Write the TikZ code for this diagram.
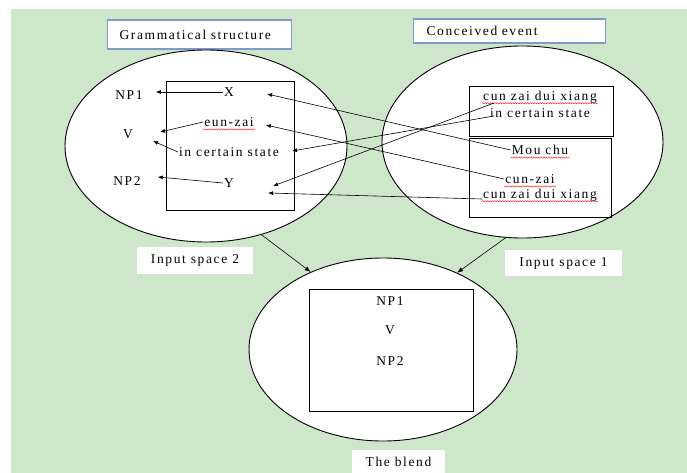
\documentclass[tikz,border=0pt]{standalone}
\usepackage{fontspec}
\setmainfont{Liberation Serif}[LetterSpace=12]
\usetikzlibrary{arrows.meta,shapes.geometric,decorations.pathmorphing}
\definecolor{bggreen}{RGB}{206,230,202}
\definecolor{titleblue}{RGB}{126,155,200}
\begin{document}
\begin{tikzpicture}[x=1pt,y=-1pt,
    font=\fontsize{13.5}{15}\selectfont,
    space/.style={ellipse,draw,line width=0.9pt,fill=white,inner sep=0pt},
    frame/.style={draw,line width=0.8pt,inner sep=0pt},
    word/.style={inner sep=1pt},
    title/.style={draw=titleblue,line width=1.2pt,fill=white,align=left,inner ysep=0pt},
    tag/.style={fill=white,inner sep=0pt},
    arr/.style={-{Latex[length=5pt,width=4pt]},line width=0.6pt},
    feed/.style={-{Latex[length=6pt,width=4.5pt]},line width=0.6pt},
    wavy/.style={red,line width=0.4pt,decorate,decoration={snake,segment length=2.5pt,amplitude=0.6pt}}]
\useasboundingbox (0,0) rectangle (687,473);
\fill[bggreen] (11,9) rectangle (687,473);

\node[title,text width=160pt,inner xsep=12pt,minimum height=29pt,anchor=west] (gtitle) at (107,34.5) {Grammatical structure};
\node[title,text width=166pt,inner xsep=13pt,minimum height=24pt,anchor=west] (ctitle) at (413,31) {Conceived event};

\node[space,minimum width=282pt,minimum height=192pt] (gspace) at (206,146) {};
\node[space,minimum width=281pt,minimum height=192pt] (cspace) at (522.5,142) {};
\node[space,minimum width=268pt,minimum height=183pt] (bspace) at (383,349.5) {};

\node[frame,minimum width=128pt,minimum height=129pt] (gbox) at (230,145.5) {};
\node[frame,minimum width=144pt,minimum height=50pt] (cbox1) at (541,111) {};
\node[frame,minimum width=142pt,minimum height=79pt] (cbox2) at (540,177.5) {};
\node[frame,minimum width=164pt,minimum height=122pt] (blendbox) at (391,350) {};

\node[word] (gnp1) at (129,95) {NP1};
\node[word] (gv) at (128,134) {V};
\node[word] (gnp2) at (127,181) {NP2};
\node[word] (gx) at (229,92) {X};
\node[word] (geun) at (229,122) {eun-zai};
\node[word] (gstate) at (229,152) {in certain state};
\node[word] (gy) at (229,183) {Y};

\node[word] (cobj) at (540,97) {cun zai dui xiang};
\node[word] (cstate) at (540,113) {in certain state};
\node[word] (cmou) at (540,150) {Mou chu};
\node[word] (ccun) at (530,179) {cun-zai};
\node[word] (cobj2) at (540,195) {cun zai dui xiang};

\node[word] (bnp1) at (390,301) {NP1};
\node[word] (bv) at (390,330) {V};
\node[word] (bnp2) at (390,361) {NP2};

\node[tag,minimum width=116pt,minimum height=27pt] (lab2) at (195,260.5) {Input space 2};
\node[tag,minimum width=117pt,minimum height=26pt] (lab1) at (563.5,263) {Input space 1};
\node[tag,minimum width=93pt,minimum height=24pt] (lablend) at (398.5,462) {The blend};

\draw[wavy] ([shift={(0,3)}]geun.base west) -- ([shift={(0,3)}]geun.base east);
\draw[wavy] ([shift={(0,3)}]cobj.base west) -- ([shift={(0,3)}]cobj.base east);
\draw[wavy] ([shift={(0,3)}]cmou.base west) -- ([shift={(0,3)}]cmou.base east);
\draw[wavy] ([shift={(0,3)}]ccun.base west) -- ([shift={(0,3)}]ccun.base east);
\draw[wavy] ([shift={(0,3)}]cobj2.base west) -- ([shift={(0,3)}]cobj2.base east);

\draw[arr] (gx.west) -- ([shift={(12,-3)}]gnp1.east);
\draw[arr] (geun.west) -- ([shift={(26,-2)}]gv.east);
\draw[arr] (gstate.west) -- ([shift={(19,7)}]gv.east);
\draw[arr] (gy.west) -- ([shift={(16,-4)}]gnp2.east);

\draw[arr] (cmou.west) -- ([shift={(32,2)}]gx.east);
\draw[arr] (ccun.west) -- ([shift={(11,3)}]geun.east);
\draw[arr] ([shift={(5,3)}]cstate.west) -- ([shift={(12,-1)}]gstate.east);
\draw[arr] ([shift={(12,6)}]cobj.west) -- ([shift={(38,3)}]gy.east);
\draw[arr] ([shift={(0,4)}]cobj2.west) -- ([shift={(33,10)}]gy.east);

\draw[feed] (gspace.-58) -- (bspace.133);
\draw[feed] (cspace.-100) -- (bspace.46);
\end{tikzpicture}
\end{document}
